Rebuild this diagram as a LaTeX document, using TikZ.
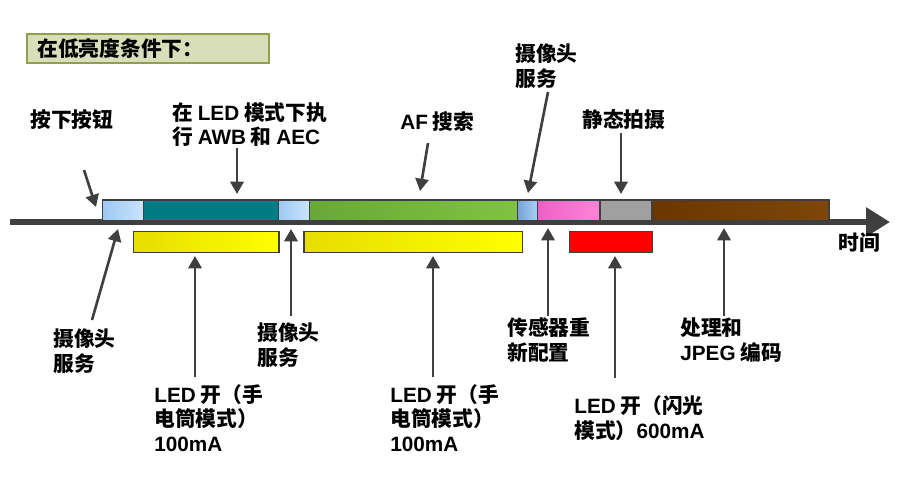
\documentclass[tikz,border=0pt]{standalone}
\usepackage{fontspec}
\setmainfont{Noto Sans CJK SC}
\newfontfamily\lat{Liberation Sans}
\usetikzlibrary{arrows.meta, positioning}

\definecolor{axisgray}{HTML}{3F3F3F}
\definecolor{titlefill}{HTML}{D7DEB9}
\definecolor{titleedge}{HTML}{8E9F4E}
\definecolor{camblueA}{HTML}{9CC9F3}
\definecolor{camblueB}{HTML}{C9E4FF}
\definecolor{tealseg}{HTML}{007C84}
\definecolor{greenA}{HTML}{68A838}
\definecolor{greenB}{HTML}{80C342}
\definecolor{midblueA}{HTML}{74A2D6}
\definecolor{midblueB}{HTML}{A9D0F7}
\definecolor{pinkA}{HTML}{EE5FC6}
\definecolor{pinkB}{HTML}{FF84DA}
\definecolor{grayseg}{HTML}{A0A0A0}
\definecolor{brownA}{HTML}{6C3600}
\definecolor{brownB}{HTML}{7E4608}
\definecolor{yellowA}{HTML}{E6DE00}
\definecolor{yellowB}{HTML}{FFFF00}

\tikzset{
  segbox/.style={draw=axisgray, line width=0.6pt, minimum height=0.42cm, inner sep=0pt},
  lbl/.style={font=\bfseries\fontsize{11.8}{14}\selectfont, align=left, inner sep=0pt, anchor=west},
  ptr/.style={draw=axisgray, line width=1.5pt, -{Triangle[length=7pt, width=7.5pt]}}
}

% one piece of the time bar: name, from x, to x, left colour, right colour, y
\newcommand{\timeseg}[6]{
	\pgfmathsetmacro{\segw}{(#3-#2)*0.02}
	\node[segbox, minimum width=\segw cm, left color=#4, right color=#5] (#1) at ({(#2+#3)/2}, #6) {};
}

\begin{document}
\begin{tikzpicture}[x=0.02cm, y=-0.02cm]
	\useasboundingbox (0,0) rectangle (900,477);

	% title
	\draw[titleedge, line width=1.7pt, fill=titlefill] (27,34) rectangle (269,63);
	\node[lbl] (title) at (37,49) {在低亮度条件下：};

	% time axis
	\coordinate (axisstart) at (10,222);
	\coordinate (axisend) at (890,222);
	\draw[axisgray, line width=3.4pt, -{Triangle[length=0.48cm, width=0.56cm]}] (axisstart) -- (axisend);
	\node[lbl] (time) at (838,243) {时间};

	% upper bar
	\timeseg{camA}{102.7}{143.3}{camblueA}{camblueB}{210.5}
	\timeseg{awbseg}{143.3}{278.3}{tealseg}{tealseg}{210.5}
	\timeseg{camB}{278.3}{309.3}{camblueA}{camblueB}{210.5}
	\timeseg{afseg}{309.3}{517.3}{greenA}{greenB}{210.5}
	\timeseg{camC}{517.3}{537.5}{midblueA}{midblueB}{210.5}
	\timeseg{sensorseg}{537.5}{600}{pinkA}{pinkB}{210.5}
	\timeseg{stillseg}{600}{652}{grayseg}{grayseg}{210.5}
	\timeseg{jpegseg}{652}{829}{brownA}{brownB}{210.5}

	% LED bars
	\timeseg{torchA}{133.3}{279}{yellowA}{yellowB}{242}
	\timeseg{torchB}{304}{522.7}{yellowA}{yellowB}{242}
	\timeseg{flashseg}{569.3}{652.7}{red}{red}{242}

	% labels above
	\node[lbl] (btn) at (30,120) {按下按钮};
	\node[lbl] (awb) at (172,124.5) {在 {\lat\bfseries LED} 模式下执\\行 {\lat\bfseries AWB} 和 {\lat\bfseries AEC}};
	\node[lbl] (af) at (400,122) {{\lat\bfseries AF} 搜索};
	\node[lbl] (camtop) at (515,66) {摄像头\\服务};
	\node[lbl] (still) at (582,120) {静态拍摄};

	% labels below
	\node[lbl] (camleft) at (53,351) {摄像头\\服务};
	\node[lbl] (torchlblA) at (154,418) {{\lat\bfseries LED} 开（手\\电筒模式）\\{\lat\bfseries 100mA}};
	\node[lbl] (cammid) at (257,345) {摄像头\\服务};
	\node[lbl] (torchlblB) at (390,418) {{\lat\bfseries LED} 开（手\\电筒模式）\\{\lat\bfseries 100mA}};
	\node[lbl] (sensor) at (507,340) {传感器重\\新配置};
	\node[lbl] (flash) at (574,418) {{\lat\bfseries LED} 开（闪光\\模式）{\lat\bfseries 600mA}};
	\node[lbl] (jpeg) at (680,340) {处理和\\{\lat\bfseries JPEG} 编码};

	% arrow ends
	\coordinate (btntail) at (84,170);   \coordinate (btntip) at (96,207);
	\coordinate (awbtail) at (237,148);  \coordinate (awbtip) at (237,194);
	\coordinate (aftail) at (428,143);   \coordinate (aftip) at (420,191);
	\coordinate (camtoptail) at (548,92); \coordinate (camtoptip) at (528,193);
	\coordinate (stilltail) at (621,133); \coordinate (stilltip) at (621,194);
	\coordinate (camlefttail) at (92,320); \coordinate (camlefttip) at (118,229);
	\coordinate (torchtailA) at (195,377); \coordinate (torchtipA) at (195,256);
	\coordinate (cammidtail) at (291,316); \coordinate (cammidtip) at (291,229);
	\coordinate (torchtailB) at (433,377); \coordinate (torchtipB) at (433,256);
	\coordinate (sensortail) at (548,316); \coordinate (sensortip) at (548,228);
	\coordinate (flashtail) at (615,378); \coordinate (flashtip) at (615,256);
	\coordinate (jpegtail) at (724,316);  \coordinate (jpegtip) at (724,228);

	\draw[ptr] (btntail) -- (btntip);
	\draw[ptr] (awbtail) -- (awbtip);
	\draw[ptr] (aftail) -- (aftip);
	\draw[ptr] (camtoptail) -- (camtoptip);
	\draw[ptr] (stilltail) -- (stilltip);
	\draw[ptr] (camlefttail) -- (camlefttip);
	\draw[ptr] (torchtailA) -- (torchtipA);
	\draw[ptr] (cammidtail) -- (cammidtip);
	\draw[ptr] (torchtailB) -- (torchtipB);
	\draw[ptr] (sensortail) -- (sensortip);
	\draw[ptr] (flashtail) -- (flashtip);
	\draw[ptr] (jpegtail) -- (jpegtip);
\end{tikzpicture}
\end{document}
